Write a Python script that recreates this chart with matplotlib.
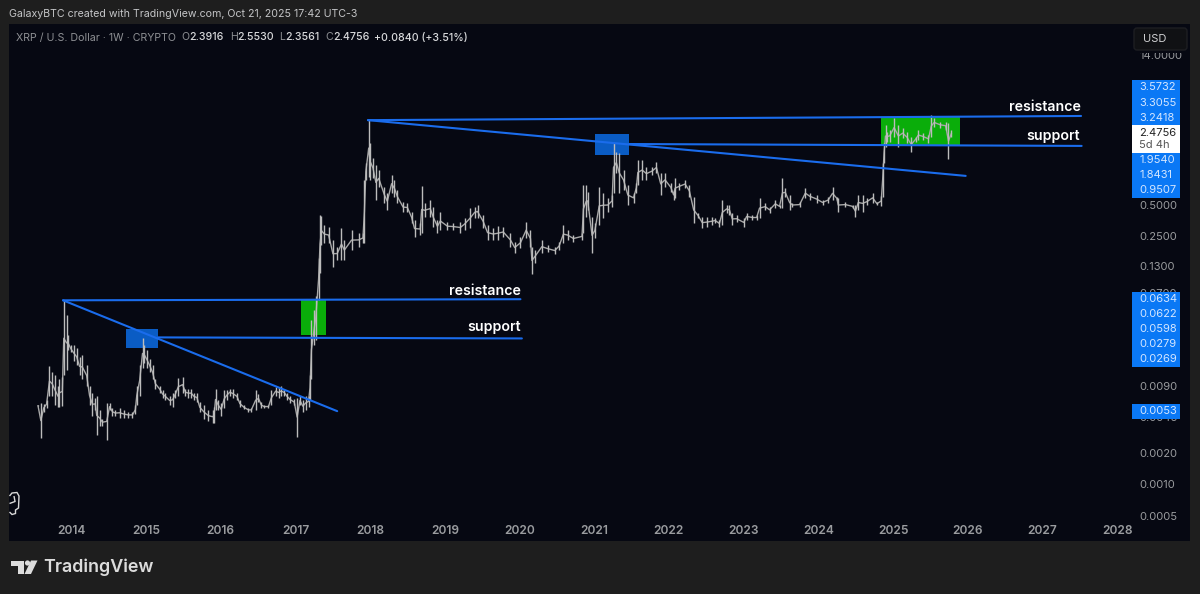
import matplotlib
matplotlib.use("Agg")
import matplotlib.dates as mdates
import matplotlib.pyplot as plt
import numpy as np
import pandas as pd
from matplotlib.patches import FancyBboxPatch, PathPatch, Polygon, Rectangle, Circle
from matplotlib.path import Path
from matplotlib.transforms import Affine2D

# XRP weekly range: weeks since the first bar, then high / low
START = pd.Timestamp("2013-07-22")
weeks = [0, 2, 4, 6, 8, 10, 12, 14, 15, 17, 18, 20, 21, 23, 25, 27, 29, 31, 34, 36,
         38, 40, 41, 43, 45, 48, 50, 52, 54, 57, 60, 63, 66, 68, 69, 71, 73, 74, 76, 78,
         80, 82, 85, 87, 89, 92, 94, 96, 98, 101, 103, 105, 107, 109, 111, 113, 116, 119, 122, 123,
         124, 126, 128, 130, 132, 134, 136, 139, 141, 144, 147, 149, 152, 154, 156, 158, 161, 163, 166, 168,
         170, 172, 174, 176, 179, 181, 183, 185, 187, 189, 190, 191, 193, 194, 196, 197, 198, 200, 203, 206,
         209, 212, 214, 219, 224, 227, 228, 229, 231, 232, 234, 236, 238, 242, 244, 247, 249, 251, 255, 258,
         261, 263, 267, 268, 270, 274, 276, 279, 281, 286, 290, 295, 298, 302, 305, 307, 311, 314, 318, 321,
         325, 330, 333, 337, 341, 344, 345, 347, 352, 356, 361, 364, 367, 370, 374, 380, 381, 383, 384, 387,
         389, 392, 395, 398, 401, 402, 404, 406, 409, 412, 416, 418, 419, 422, 425, 429, 432, 435, 438, 442,
         444, 445, 448, 452, 455, 458, 461, 464, 467, 471, 473, 476, 478, 481, 483, 485, 488, 493, 495, 499,
         502, 504, 508, 511, 515, 518, 520, 522, 525, 527, 532, 536, 539, 544, 548, 552, 555, 558, 559, 564,
         569, 571, 573, 576, 579, 583, 586, 589, 590, 591, 592, 593, 595, 598, 601, 604, 607, 610, 613, 615,
         618, 622, 624, 626, 630, 634, 636, 638]
highs = [.0058, .0061, .0060, .0065, .0138, .0121, .0113, .0090, .0105, .0110, .0589, .0429, .0275, .0220, .0220, .0207, .0169, .0176, .0141, .0090,
         .0077, .0069, .0072, .0052, .0043, .0061, .0061, .0055, .0052, .0055, .0052, .0050, .0050, .0058, .0090, .0141, .0257, .0220, .0197, .0164,
         .0141, .0105, .0090, .0081, .0077, .0072, .0077, .0081, .0107, .0110, .0084, .0084, .0084, .0077, .0077, .0062, .0058, .0052, .0052, .0056,
         .0084, .0065, .0061, .0081, .0082, .0084, .0084, .0077, .0065, .0058, .0055, .0055, .0081, .0074, .0062, .0058, .0058, .0081, .0088, .0088,
         .0090, .0084, .0077, .0072, .0067, .0069, .0072, .0065, .0072, .0072, .0113, .0384, .0480, .0655, .154, .40, .39, .32, .307, .229,
         .196, .30, .229, .286, .27, .27, .87, 1.27, 3.38, 2.0, 1.42, 1.22, 1.09, .75, .66, .975, .87, .70, .53, .52,
         .43, .358, .335, .76, .52, .56, .48, .358, .43, .34, .335, .34, .375, .47, .48, .50, .40, .32, .30, .31,
         .307, .27, .22, .245, .34, .286, .196, .183, .229, .205, .196, .22, .32, .286, .256, .27, .78, .78, .67, .38,
         .335, .75, .66, .58, .625, 2.0, 1.62, 1.58, 1.09, .78, .66, .82, 1.36, 1.36, 1.16, 1.16, 1.30, 1.02, 1.02, .82,
         .70, .91, .82, .87, .78, .60, .42, .38, .38, .38, .375, .358, .56, .50, .50, .42, .40, .375, .42, .40,
         .40, .58, .52, .48, .56, .50, .91, .73, .625, .52, .53, .73, .66, .625, .56, .60, .75, .60, .58, .53,
         .50, .50, .625, .625, .58, .66, .53, .61, 1.27, 2.0, 2.95, 2.55, 2.65, 3.45, 2.95, 2.75, 2.55, 2.27, 2.27, 2.65,
         2.5, 2.37, 3.7, 3.45, 3.2, 3.2, 3.1, 2.65]
lows = [.0057, .0028, .0050, .0055, .0072, .0072, .0058, .0056, .0056, .0057, .0113, .0126, .0197, .0189, .0157, .0141, .0113, .0105, .0090, .0058,
        .0046, .0052, .0030, .0037, .0037, .0027, .0052, .0046, .0046, .0044, .0044, .0044, .0044, .0048, .0058, .0072, .0132, .0150, .0132, .0121,
        .0105, .0084, .0077, .0069, .0065, .0058, .0056, .0069, .0072, .0077, .0072, .0069, .0069, .0065, .0062, .0050, .0043, .0041, .0039, .0039,
        .0052, .0052, .0046, .0055, .0065, .0072, .0068, .0065, .0056, .0053, .0050, .0050, .0052, .0062, .0055, .0055, .0055, .0058, .0072, .0068,
        .0071, .0071, .0065, .0061, .0058, .0029, .0058, .0050, .0052, .0056, .0065, .0105, .0220, .0246, .0600, .110, .205, .214, .214, .125,
        .147, .147, .147, .183, .196, .214, .214, .87, .93, .87, .91, .56, .75, .52, .447, .66, .60, .52, .43, .43,
        .335, .245, .256, .27, .38, .38, .307, .27, .286, .286, .286, .27, .286, .30, .375, .375, .30, .229, .229, .229,
        .245, .196, .171, .19, .24, .196, .108, .137, .171, .175, .168, .183, .214, .229, .22, .229, .27, .38, .447, .171,
        .24, .32, .375, .43, .48, .66, 1.02, .66, .70, .50, .52, .66, .78, .87, .87, .975, 1.02, .625, .75, .67,
        .56, .58, .70, .73, .60, .335, .375, .30, .307, .32, .335, .307, .32, .42, .40, .32, .34, .307, .358, .358,
        .358, .375, .447, .42, .47, .47, .47, .60, .447, .48, .48, .58, .56, .52, .50, .52, .56, .56, .43, .48,
        .47, .38, .447, .43, .50, .52, .50, .49, .60, 1.27, 1.82, 2.05, 2.05, 2.27, 1.82, 2.22, 2.0, 1.62, 2.05, 2.12,
        2.12, 2.0, 2.27, 2.85, 2.78, 2.65, 1.39, 2.27]

# drawn levels, (week, price) at each end
resist_a = [(17.5, .0600), (337, .0615)]
support_a = [(84, .0263), (338, .0257)]
trend_a = [(17.5, .0600), (209, .0051)]
resist_b = [(230.5, 3.30), (728.6, 3.62)]
support_b = [(413, 1.94), (729, 1.86)]
trend_b = [(230.5, 3.30), (648, .955)]
# zones as week from, week to, price low, price high
green_zones = [(184, 201, .0275, .0600), (589, 644, 1.90, 3.53)]
blue_zones = [(61.5, 84, .0210, .0314), (389, 413, 1.52, 2.42)]

year_ticks = list(range(2014, 2029))
price_ticks = [14, 0.5, 0.25, 0.13, 0.07, 0.009, 0.0045, 0.002, 0.001, 0.0005]
price_tick_labels = ["14.0000", "0.5000", "0.2500", "0.1300", "0.0700", "0.0090", "0.0045", "0.0020", "0.0010", "0.0005"]
upper_tags = ["3.5732", "3.3055", "3.2418"]
middle_tags = ["1.9540", "1.8431", "0.9507"]
lower_tags = ["0.0634", "0.0622", "0.0598", "0.0279", "0.0269"]

PANEL = "#060812"
FRAME = "#1e1e1e"
LINE_BLUE = "#1a6cec"
TAG_BLUE = "#0a78f5"
GREY = "#9a9c9f"

plt.rcParams["font.family"] = ["Inter", "DejaVu Sans"]


def to_date(week):
    return START + pd.to_timedelta(np.asarray(week, dtype=float) * 7, unit="D")


fig = plt.figure(figsize=(12, 5.94), dpi=100, facecolor=FRAME)
ax = fig.add_axes([9 / 1200, 53 / 594, 1181 / 1200, 517 / 594], facecolor=PANEL)
# pixel coordinates of the picture, for everything that is chrome and not data
px = Affine2D().scale(1, -1).translate(0, 594)

ax.set_yscale("log")
ax.set_ylim(0.000284, 28)
ax.set_xlim(to_date(-20.26), to_date(804.7))

for w0, w1, lo, hi in green_zones:
    ax.add_patch(Rectangle((mdates.date2num(to_date(w0)), lo),
                           mdates.date2num(to_date(w1)) - mdates.date2num(to_date(w0)), hi - lo,
                           fc="#0aad0a", ec="none", zorder=1))
for w0, w1, lo, hi in blue_zones:
    ax.add_patch(Rectangle((mdates.date2num(to_date(w0)), lo),
                           mdates.date2num(to_date(w1)) - mdates.date2num(to_date(w0)), hi - lo,
                           fc="#0a5cc4", ec="none", zorder=1))

bar_dates = to_date(weeks)
mids = np.sqrt(np.array(highs) * np.array(lows))
ax.plot(bar_dates, mids, color="#a8a8a8", lw=1.0, zorder=2)
ax.vlines(bar_dates, lows, highs, color="#bcbcbc", lw=1.0, zorder=2)

for level in (resist_a, support_a, trend_a, resist_b, support_b, trend_b):
    xs, ys = zip(*level)
    ax.plot(to_date(xs), ys, color=LINE_BLUE, lw=1.5, zorder=3, solid_capstyle="round")

ax.set_xticks([pd.Timestamp(f"{y}-01-01") for y in year_ticks])
ax.xaxis.set_major_formatter(mdates.DateFormatter("%Y"))
ax.tick_params(axis="x", length=0, pad=-11.5, labelsize=8.6, labelcolor=GREY)
for lab in ax.get_xticklabels():
    lab.set_fontweight("semibold")
ax.yaxis.tick_right()
ax.set_yticks(price_ticks)
ax.set_yticklabels(price_tick_labels)
ax.yaxis.set_minor_locator(matplotlib.ticker.NullLocator())
ax.tick_params(axis="y", length=0, pad=-36.7, labelsize=8, labelcolor=GREY)
for side in ax.spines.values():
    side.set_visible(False)


def box(x0, y0, x1, y1, color, z=5):
    ax.add_patch(Rectangle((x0, y0), x1 - x0, y1 - y0, fc=color, ec="none", transform=px,
                           clip_on=False, zorder=z))


def label(x, y, s, color="#cfd0d2", size=8, weight="normal", ha="left", z=6):
    ax.text(x, y, s, color=color, fontsize=size, fontweight=weight, ha=ha, va="center",
            transform=px, clip_on=False, zorder=z)


# price tags on the right
box(1132, 80, 1180, 125, TAG_BLUE)
box(1132, 125, 1180, 153, "#ffffff")
box(1132, 153, 1180, 198, TAG_BLUE)
box(1132, 292, 1180, 367, TAG_BLUE)
box(1132, 404, 1180, 419, TAG_BLUE)
for s, y in zip(upper_tags, (87.5, 102.5, 118)):
    label(1139, y, s, color="#d4e6ff")
for s, y in zip(middle_tags, (160, 175, 190)):
    label(1139, y, s, color="#d4e6ff")
for s, y in zip(lower_tags, (299, 314, 329, 344, 359)):
    label(1139, y, s, color="#d4e6ff")
label(1139, 411, "0.0053", color="#d4e6ff")
label(1139, 132.5, "2.4756", color="#222222")
label(1139, 145, "5d 4h", color="#555555")

# USD button sits over the top of the scale and cuts the 14.0000 label
box(1132, 24, 1190, 53, PANEL)
ax.add_patch(FancyBboxPatch((1136, 30), 49, 18, boxstyle="round,pad=2,rounding_size=3", fc="#101114",
                            ec="#1d1e22", lw=1, transform=px, clip_on=False, zorder=6))
label(1143, 39, "USD", color="#d0d1d3", z=7)

# drawn captions
label(1081, 107, "resistance", color="white", size=10.2, weight="semibold", ha="right")
label(1080, 136, "support", color="white", size=10.2, weight="semibold", ha="right")
label(521, 291, "resistance", color="white", size=10.2, weight="semibold", ha="right")
label(521, 327, "support", color="white", size=10.2, weight="semibold", ha="right")

# header and legend line
label(9, 14, "GalaxyBTC created with TradingView.com, Oct 21, 2025 17:42 UTC-3", color="#c4c5c7", size=7.65)
label(16, 37.5, "XRP / U.S. Dollar · 1W · CRYPTO", color="#8e9094", size=7.65)
for x, s in ((181, "O"), (230, "H"), (279, "L"), (325, "C")):
    label(x, 37.5, s, color="#8e9094", size=7.65)
for x, s in ((189, "2.3916"), (237, "2.5530"), (285, "2.3561"), (333, "2.4756"), (374, "+0.0840 (+3.51%)")):
    label(x, 37.5, s, color="#d8d9db", size=7.65, weight="medium")

# TradingView mark and name in the footer
ax.add_patch(Polygon([(11, 560.5), (23.5, 560.5), (23.5, 574), (17.5, 574), (17.5, 565.5), (11, 565.5)],
                     fc="#dcdcdc", ec="none", transform=px, clip_on=False, zorder=6))
ax.add_patch(Circle((27.5, 563), 2.6, fc="#dcdcdc", ec="none", transform=px, clip_on=False, zorder=6))
ax.add_patch(Polygon([(31, 560.5), (37.5, 560.5), (31, 574), (24.5, 574)],
                     fc="#dcdcdc", ec="none", transform=px, clip_on=False, zorder=6))
label(43.5, 567, "TradingView", color="#dcdcdc", size=12.9, weight="semibold")

# small cursor glyph, bottom left
glyph = [(9.5, 496), (12, 493), (17, 492.5), (19, 496), (18.5, 508), (15.5, 510), (15.5, 513.5), (12, 514.5), (9.5, 512)]
ax.add_patch(PathPatch(Path(glyph), fc="none", ec="#d8d8d8", lw=1, transform=px, clip_on=False, zorder=6))
ax.add_patch(PathPatch(Path([(9.5, 503.5), (15, 501.5), (14, 496)]), fc="none", ec="#d8d8d8", lw=1,
                       transform=px, clip_on=False, zorder=6))

fig.savefig("out.png", dpi=100, facecolor=FRAME)
